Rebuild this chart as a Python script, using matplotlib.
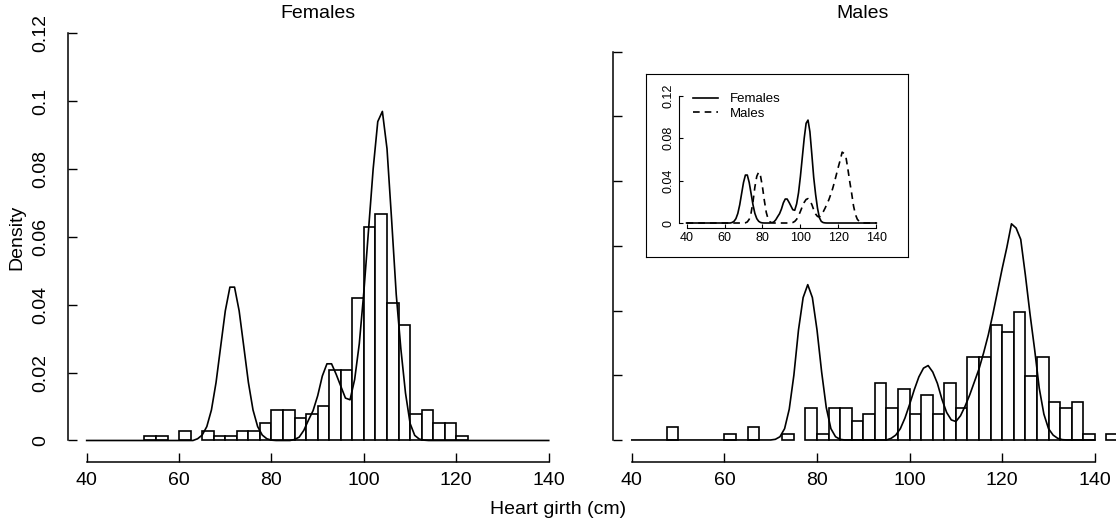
import matplotlib
matplotlib.use("Agg")
import matplotlib.pyplot as plt
import numpy as np

plt.rcParams['font.family'] = ['Liberation Sans', 'DejaVu Sans']

# ---- data ----
# density curves evaluated on a grid 40..140 (step 1)
grid_x = list(range(40, 141))

females_curve = ([0.0] * 24 +
                 [0.0005, 0.0016, 0.0041, 0.0090, 0.0171, 0.0277, 0.0382, 0.0452, 0.0452,
                  0.0382, 0.0277, 0.0171, 0.0090, 0.0041, 0.0016, 0.0005, 0.0001] +
                 [0.0] * 4 +
                 [0.0003, 0.0010, 0.0030, 0.0060, 0.0088, 0.0132, 0.0190, 0.0226, 0.0226,
                  0.0195, 0.0160, 0.0125, 0.0120, 0.0180, 0.0285, 0.0440, 0.0620, 0.0800,
                  0.0940, 0.0970, 0.0860, 0.0650, 0.0430, 0.0270, 0.0140, 0.0050, 0.0015,
                  0.0004, 0.0001] +
                 [0.0] * 27)

males_curve = ([0.0] * 31 +
               [0.0002, 0.0010, 0.0035, 0.0095, 0.0200, 0.0340, 0.0440, 0.0480, 0.0440,
                0.0340, 0.0210, 0.0100, 0.0035, 0.0010, 0.0002] +
               [0.0] * 10 +
               [0.0005, 0.0015, 0.0035, 0.0068, 0.0110, 0.0155, 0.0195, 0.0222, 0.0230,
                0.0210, 0.0175, 0.0125, 0.0085, 0.0062, 0.0057, 0.0075, 0.0105, 0.0140,
                0.0180, 0.0220, 0.0270, 0.0325, 0.0390, 0.0460, 0.0530, 0.0595, 0.0668,
                0.0655, 0.0620, 0.0510, 0.0390, 0.0280, 0.0160, 0.0080, 0.0035, 0.0015,
                0.0005, 0.0001] +
               [0.0] * 7)

bin_width = 2.5

# females histogram (left edge of bin, density)
fem_bins = [52.5, 55, 60, 65, 67.5, 70, 72.5, 75, 77.5, 80, 82.5, 85, 87.5, 90,
            92.5, 95, 97.5, 100, 102.5, 105, 107.5, 110, 112.5, 115, 117.5, 120]
fem_density = [0.0014, 0.0014, 0.0027, 0.0027, 0.0014, 0.0014, 0.0027, 0.0027, 0.0053,
               0.0091, 0.0091, 0.0066, 0.0079, 0.0103, 0.0209, 0.0209, 0.0420, 0.0629,
               0.0668, 0.0405, 0.0341, 0.0079, 0.0091, 0.0051, 0.0051, 0.0013]

# males histogram (left edge of bin, counts)
male_bins = [47.5, 60, 65, 72.5, 77.5, 80, 82.5, 85, 87.5, 90, 92.5, 95, 97.5, 100,
             102.5, 105, 107.5, 110, 112.5, 115, 117.5, 120, 122.5, 125, 127.5, 130,
             132.5, 135, 137.5, 142.5]
male_counts = [2, 1, 2, 1, 5, 1, 5, 5, 3, 4, 9, 5, 8, 4, 7, 4, 9, 5, 13, 13, 18, 17,
               20, 10, 13, 6, 5, 6, 1, 1]
male_density = np.array(male_counts) / (sum(male_counts) * bin_width)

y_ticks = [0, 0.02, 0.04, 0.06, 0.08, 0.1, 0.12]
y_labels = ["0", "0.02", "0.04", "0.06", "0.08", "0.1", "0.12"]
x_ticks = [40, 60, 80, 100, 120, 140]
inset_y_ticks = [0, 0.04, 0.08, 0.12]
inset_y_labels = ["0", "0.04", "0.08", "0.12"]

# ---- figure ----
W, H = 1116, 527
fig = plt.figure(figsize=(W / 100, H / 100), dpi=100)


def px_axes(x0, y0, x1, y1):
    # axes placed by pixel box (top-left origin)
    return fig.add_axes([x0 / W, 1 - y1 / H, (x1 - x0) / W, (y1 - y0) / H])


def r_style(ax, ticklen=6.5, fs=14):
    for s in ['top', 'right']:
        ax.spines[s].set_visible(False)
    for s in ['left', 'bottom']:
        ax.spines[s].set_linewidth(1.1)
    ax.tick_params(direction='in', length=ticklen, width=1.0, labelsize=fs)
    ax.set_facecolor('none')


lw = 1.2

# left panel: females
axL = px_axes(68.2, 16.4, 567.2, 462.3)
axL.set_xlim(36, 144)
axL.set_ylim(-0.00643, 0.125)
axL.bar(fem_bins, fem_density, width=bin_width, align='edge',
        facecolor='white', edgecolor='black', linewidth=lw)
axL.plot(grid_x, females_curve, color='black', linewidth=lw)
r_style(axL)
axL.spines['left'].set_bounds(0, 0.12)
axL.spines['bottom'].set_bounds(40, 140)
axL.set_yticks(y_ticks)
axL.set_yticklabels(y_labels, rotation=90, va='center')
axL.set_xticks(x_ticks)
axL.tick_params(axis='y', pad=14)
axL.tick_params(axis='x', pad=7)

# right panel: males
axR = px_axes(613.3, 35.5, 1141.1, 462.3)
axR.set_xlim(36, 150)
axR.set_ylim(-0.0069, 0.125)
axR.bar(male_bins, male_density, width=bin_width, align='edge',
        facecolor='white', edgecolor='black', linewidth=lw)
axR.plot(grid_x, males_curve, color='black', linewidth=lw)
r_style(axR)
axR.spines['left'].set_bounds(0, 0.12)
axR.spines['bottom'].set_bounds(40, 140)
axR.set_yticks(y_ticks)
axR.set_yticklabels([])
axR.set_xticks(x_ticks)
axR.tick_params(axis='x', pad=7)

# inset box
axBox = px_axes(646, 74, 908, 257)
axBox.set_facecolor('white')
axBox.set_xticks([])
axBox.set_yticks([])
for s in axBox.spines.values():
    s.set_linewidth(0.8)

# inset plot
axI = px_axes(679, 90.6, 883.9, 228.1)
axI.set_xlim(36, 144)
axI.set_ylim(-0.0048, 0.1248)
axI.plot(grid_x, females_curve, color='black', linewidth=lw, label='Females')
axI.plot(grid_x, males_curve, color='black', linewidth=lw, linestyle=(0, (4, 3)),
         label='Males')
r_style(axI, ticklen=3, fs=9)
axI.spines['left'].set_linewidth(0.8)
axI.spines['bottom'].set_linewidth(0.8)
axI.spines['left'].set_bounds(0, 0.12)
axI.spines['bottom'].set_bounds(40, 140)
axI.set_yticks(inset_y_ticks)
axI.set_yticklabels(inset_y_labels, rotation=90, va='center')
axI.set_xticks(x_ticks)
axI.tick_params(axis='y', pad=3, width=0.8)
axI.tick_params(axis='x', pad=3, width=0.8)
axI.legend(loc='upper left', bbox_to_anchor=(693 / W, 1 - 93 / H),
           bbox_transform=fig.transFigure, frameon=False, fontsize=9.5,
           handlelength=1.9, handletextpad=0.9, labelspacing=0.2,
           borderpad=0, borderaxespad=0)

# titles and axis labels
fig.text(317.7 / W, 1 - 13 / H, "Females", ha='center', va='center', fontsize=14)
fig.text(862.8 / W, 1 - 13 / H, "Males", ha='center', va='center', fontsize=14)
fig.text(17 / W, 1 - 237 / H, "Density", ha='center', va='center', rotation=90, fontsize=14)
fig.text(558 / W, 1 - 510 / H, "Heart girth (cm)", ha='center', va='center', fontsize=14)

fig.savefig("out.png", dpi=100)
